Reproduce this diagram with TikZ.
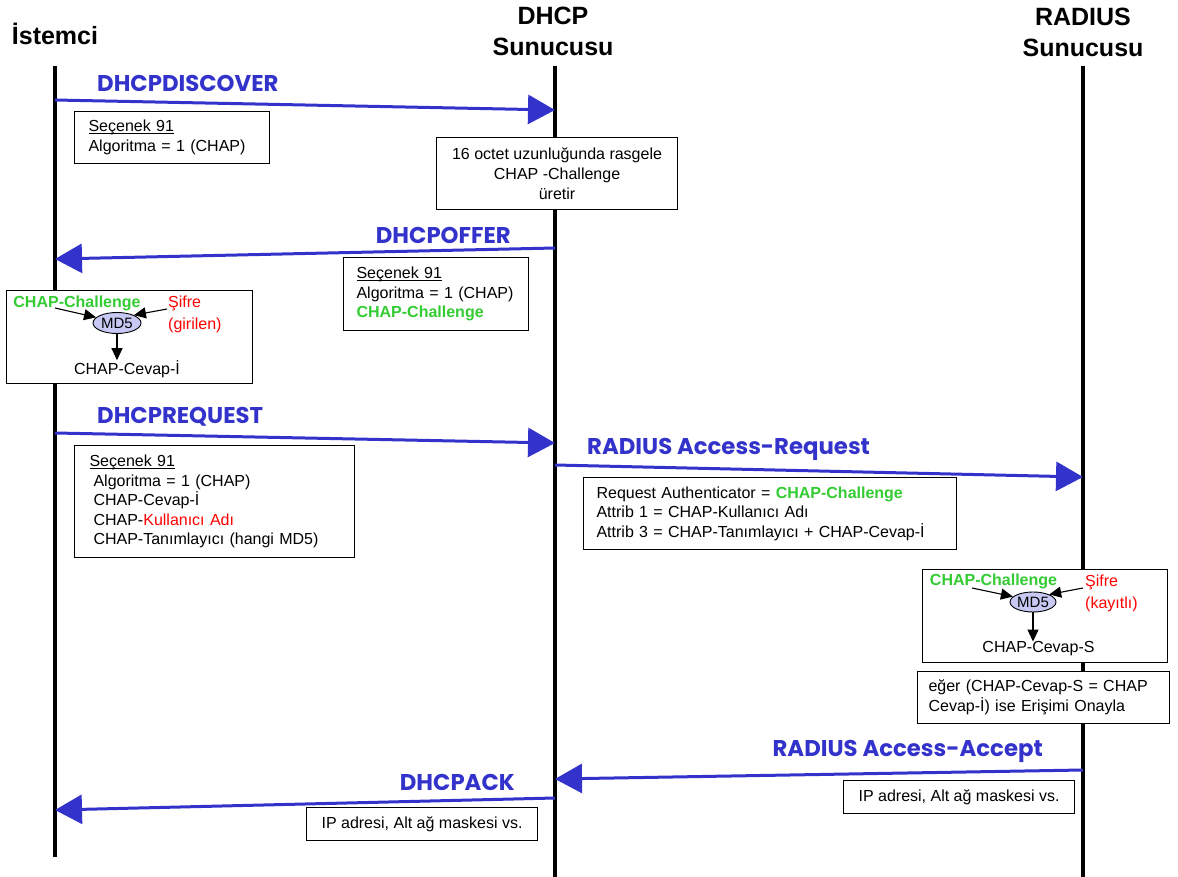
\documentclass[tikz,border=0pt]{standalone}
\usepackage{fontspec}
\setmainfont{Liberation Sans}
\newfontfamily\msgfont{Poppins}
\usetikzlibrary{arrows.meta,shapes.geometric}
\definecolor{msgblue}{RGB}{51,51,204}
\definecolor{chapgreen}{RGB}{51,204,51}
\definecolor{pwdred}{RGB}{255,0,0}
\definecolor{md5fill}{RGB}{200,200,245}
% underline sitting just below the baseline
\newcommand\undl[1]{\setbox0\hbox{#1}\rlap{\rule[-2.2pt]{\wd0}{0.9pt}}\box0}
\begin{document}
\begin{tikzpicture}[x=1pt,y=-1pt,
  lifeline/.style={line width=4.2pt, black},
  msg/.style={draw=msgblue, line width=3pt, -{Triangle[length=27pt,width=29pt]}},
  msglabel/.style={text=msgblue, font=\msgfont\bfseries\fontsize{22.8}{26}\selectfont, inner sep=0pt},
  header/.style={font=\bfseries\fontsize{25}{31}\selectfont, align=center, inner sep=0pt},
  notebox/.style={draw, line width=1.1pt, fill=white, anchor=north west, inner ysep=0pt,
    font=\fontsize{16}{19.5}\selectfont},
  md5/.style={ellipse, draw, line width=0.9pt, fill=md5fill, inner sep=0pt,
    font=\fontsize{15}{18}\selectfont},
  small/.style={inner sep=0pt, font=\fontsize{16}{22}\selectfont},
  hash/.style={line width=1.1pt, -{Triangle[length=12pt,width=11pt]}},
  green/.style={text=chapgreen, font=\bfseries\fontsize{16}{19.5}\selectfont}
]
\useasboundingbox (0,0) rectangle (1178,877);

% column headers
\node[header] (hC) at (55,34) {İstemci};
\node[header] (hD) at (553,31) {DHCP\\Sunucusu};
\node[header] (hR) at (1083,32) {RADIUS\\Sunucusu};

% lifelines
\coordinate (cTop) at (55,66);   \coordinate (cBot) at (55,857);
\coordinate (dTop) at (555,66);  \coordinate (dBot) at (555,877);
\coordinate (rTop) at (1083,66); \coordinate (rBot) at (1083,877);
\draw[lifeline] (cTop) -- (cBot);
\draw[lifeline] (dTop) -- (dBot);
\draw[lifeline] (rTop) -- (rBot);

% message end points on the lifelines
\coordinate (m1s) at (55,100);   \coordinate (m1e) at (555,110);
\coordinate (m2s) at (555,248);  \coordinate (m2e) at (55,259);
\coordinate (m3s) at (55,433);   \coordinate (m3e) at (555,443);
\coordinate (m4s) at (555,465);  \coordinate (m4e) at (1083,477);
\coordinate (m5s) at (1083,770); \coordinate (m5e) at (555,779);
\coordinate (m6s) at (555,798);  \coordinate (m6e) at (55,810);

% notes
\node[notebox, minimum width=195pt, minimum height=52pt, inner xsep=14pt, text width=167pt, align=left]
  (n1) at (74,111) {\undl{Seçenek 91}\\Algoritma = 1 (CHAP)};
\node[notebox, minimum width=241pt, minimum height=72pt, align=center,
  font=\fontsize{16}{20}\selectfont]
  (n2) at (436,137) {16 octet uzunluğunda rasgele\\CHAP -Challenge\\üretir};
\node[notebox, minimum width=185pt, minimum height=73pt, inner xsep=13pt, text width=159pt, align=left]
  (n3) at (343,257) {\undl{Seçenek 91}\\Algoritma = 1 (CHAP)\\{\color{chapgreen}\bfseries CHAP-Challenge}};
\node[notebox, minimum width=246pt, minimum height=93pt] (n4) at (6,290) {};
\node[notebox, minimum width=280pt, minimum height=112pt, inner xsep=15pt, text width=250pt, align=left]
  (n5) at (74,445) {\undl{Seçenek 91}\\
    \hspace*{4pt}Algoritma = 1 (CHAP)\\
    \hspace*{4pt}CHAP-Cevap-İ\\
    \hspace*{4pt}CHAP-{\color{pwdred}Kullanıcı Adı}\\
    \hspace*{4pt}CHAP-Tanımlayıcı (hangi MD5)};
\node[notebox, minimum width=373pt, minimum height=72pt, inner xsep=13pt, text width=347pt, align=left]
  (n6) at (583,477) {Request Authenticator = {\color{chapgreen}\bfseries CHAP-Challenge}\\
    Attrib 1 = CHAP-Kullanıcı Adı\\
    Attrib 3 = CHAP-Tanımlayıcı + CHAP-Cevap-İ};
\node[notebox, minimum width=245pt, minimum height=93pt] (n7) at (922,569) {};
\node[notebox, minimum width=252pt, minimum height=52pt, inner xsep=11pt, text width=230pt, align=left,
  font=\fontsize{16}{20}\selectfont]
  (n8) at (917,671) {eğer (CHAP-Cevap-S = CHAP\\Cevap-İ) ise Erişimi Onayla};
\node[notebox, minimum width=231pt, minimum height=33pt, align=center]
  (n9) at (843,780) {IP adresi, Alt ağ maskesi vs.};
\node[notebox, minimum width=231pt, minimum height=33pt, align=center]
  (n10) at (306,807) {IP adresi, Alt ağ maskesi vs.};

% client side MD5 computation
\node[md5, minimum width=48pt, minimum height=21pt] (hashA) at (117,323) {MD5};
\node[green, inner sep=0pt] (chA) at (77,303) {CHAP-Challenge};
\node[small, text=pwdred, align=left, anchor=west] (pwA) at (168,314) {Şifre\\(girilen)};
\node[small] (rsA) at (127,369) {CHAP-Cevap-İ};
\coordinate (chAo) at (55,308);
\coordinate (pwAo) at (167,309);
\draw[hash] (chAo) -- (hashA.165);
\draw[hash] (pwAo) -- (hashA.25);
\draw[hash] (hashA.south) -- (hashA.south |- rsA.north);

% server side MD5 computation
\node[md5, minimum width=46pt, minimum height=20pt] (hashS) at (1033,602) {MD5};
\node[green, inner sep=0pt] (chS) at (993.5,581) {CHAP-Challenge};
\node[small, text=pwdred, align=left, anchor=west] (pwS) at (1085,593) {Şifre\\(kayıtlı)};
\node[small] (rsS) at (1038.5,649) {CHAP-Cevap-S};
\coordinate (chSo) at (972,588);
\coordinate (pwSo) at (1083,588);
\draw[hash] (chSo) -- (hashS.165);
\draw[hash] (pwSo) -- (hashS.25);
\draw[hash] (hashS.south) -- (hashS.south |- rsS.north);

% messages
\draw[msg] (m1s) -- (m1e);
\draw[msg] (m2s) -- (m2e);
\draw[msg] (m3s) -- (m3e);
\draw[msg] (m4s) -- (m4e);
\draw[msg] (m5s) -- (m5e);
\draw[msg] (m6s) -- (m6e);

\node[msglabel, anchor=west] (l1) at (97,83) {DHCPDISCOVER};
\node[msglabel, anchor=east] (l2) at (511,235) {DHCPOFFER};
\node[msglabel, anchor=west] (l3) at (97,417) {DHCPREQUEST};
\node[msglabel, anchor=west] (l4) at (587,449) {RADIUS Access-Request};
\node[msglabel, anchor=east] (l5) at (1043,751) {RADIUS Access-Accept};
\node[msglabel, anchor=east] (l6) at (515,782) {DHCPACK};
\end{tikzpicture}
\end{document}
